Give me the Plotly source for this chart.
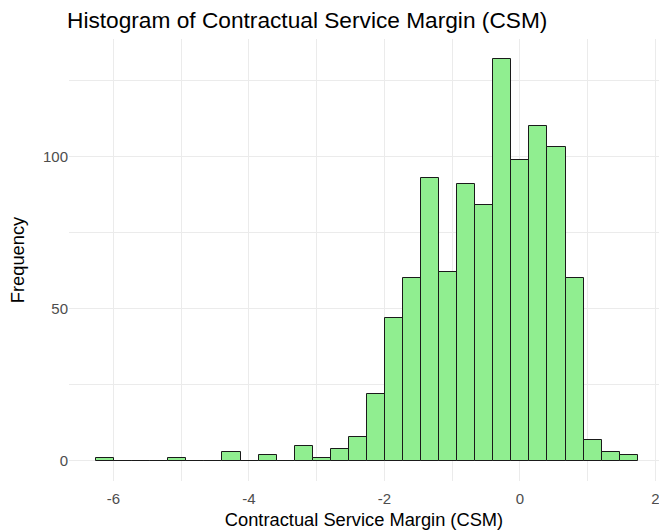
import numpy as np
import plotly.graph_objects as go

# Histogram data (30 bins)
bin_start = -6.255      # left edge of the first bin
bin_width = 0.2665
counts = [1, 0, 0, 0, 1, 0, 0, 3, 0, 2,
          0, 5, 1, 4, 8, 22, 47, 60, 93, 62,
          91, 84, 132, 99, 110, 103, 60, 7, 3, 2]
x_ticks = [-6, -4, -2, 0, 2]
y_ticks = [0, 50, 100]

centers = bin_start + bin_width * (np.arange(len(counts)) + 0.5)

fig = go.Figure(go.Bar(
    x=centers, y=counts, width=bin_width,
    marker=dict(color="#90EE90", line=dict(color="#1a1a1a", width=1)),
    hoverinfo="x+y",
))

font = "Liberation Sans, Arial, sans-serif"
fig.update_layout(
    width=659, height=532,
    margin=dict(l=68.5, r=0, t=38.8, b=51.2, autoexpand=False),
    plot_bgcolor="white", paper_bgcolor="white",
    showlegend=False,
    font=dict(family=font, color="#4d4d4d", size=12),
    title=dict(text="Histogram of Contractual Service Margin (CSM)",
               x=67/659, xanchor="left", y=1-20/532, yanchor="middle",
               font=dict(size=22.7, color="black", family=font)),
    bargap=0,
)
fig.update_xaxes(
    range=[-6.655, 2.054], tickvals=x_ticks, ticktext=[str(v) for v in x_ticks],
    automargin=False, ticklabeloverflow="allow", ticklabelstandoff=7,
    showgrid=True, gridcolor="#ebebeb", gridwidth=1.1,
    minor=dict(dtick=1, tick0=0, showgrid=True, gridcolor="#ebebeb", gridwidth=0.6),
    zeroline=False, showline=False, ticks="", ticklen=0,
    tickfont=dict(size=15, color="#4d4d4d"),
    title=dict(text="Contractual Service Margin (CSM)", standoff=7,
               font=dict(size=18.3, color="black")),
)
fig.update_yaxes(
    range=[-6.6, 138.6], tickvals=y_ticks, ticktext=[str(v) for v in y_ticks],
    automargin=False,
    showgrid=True, gridcolor="#ebebeb", gridwidth=1.1,
    minor=dict(dtick=25, tick0=0, showgrid=True, gridcolor="#ebebeb", gridwidth=0.6),
    zeroline=False, showline=False, ticks="", ticklen=0,
    tickfont=dict(size=15, color="#4d4d4d"),
    title=dict(text="Frequency", standoff=13, font=dict(size=18.3, color="black")),
)
fig.write_html("out.html",
               config={"displayModeBar": False},
               post_script="document.body.style.margin='0';document.body.style.overflow='hidden';")
